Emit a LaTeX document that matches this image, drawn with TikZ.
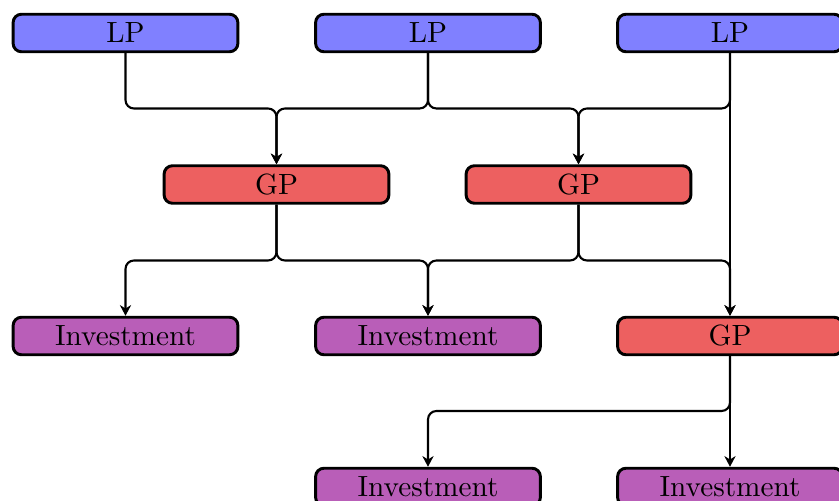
\documentclass[tikz,border=0pt]{standalone}
\usetikzlibrary{arrows.meta}
\definecolor{lpcol}{RGB}{128,128,255}
\definecolor{gpcol}{RGB}{237,96,96}
\definecolor{invcol}{RGB}{185,94,184}
\begin{document}
\begin{tikzpicture}[x=0.35714pt,y=-0.35714pt,
  box/.style={draw=black,line width=1.05pt,rounded corners=3pt,minimum width=80.3pt,minimum height=13.4pt,inner sep=0pt,font=\fontsize{10.45}{12}\selectfont},
  lpbox/.style={box,fill=lpcol},
  gpbox/.style={box,fill=gpcol},
  invbox/.style={box,fill=invcol},
  conn/.style={draw=black,line width=0.75pt,rounded corners=3pt,-{Stealth[length=3.8pt,width=4pt,inset=1.2pt]}}]
\useasboundingbox (0,0) rectangle (839,501);
\node[lpbox] (LP1) at (125.5,33) {LP};
\node[lpbox] (LP2) at (428,33) {LP};
\node[lpbox] (LP3) at (730,33) {LP};
\node[gpbox] (GP1) at (276.5,184.5) {GP};
\node[gpbox] (GP2) at (578.5,184.5) {GP};
\node[invbox] (I1) at (125.5,336) {Investment};
\node[invbox] (I2) at (428,336) {Investment};
\node[gpbox] (GP3) at (730,336) {GP};
\node[invbox] (I4) at (428,487) {Investment};
\node[invbox] (I5) at (730,487) {Investment};
\coordinate (m1) at (0,108.5);
\coordinate (m2) at (0,260.5);
\coordinate (m3) at (0,411);
% LP -> GP
\draw[conn] (LP1.south) |- (GP1.north |- m1) -- (GP1.north);
\draw[conn] (LP2.south) |- (GP1.north |- m1) -- (GP1.north);
\draw[conn] (LP2.south) |- (GP2.north |- m1) -- (GP2.north);
\draw[conn] (LP3.south) |- (GP2.north |- m1) -- (GP2.north);
\draw[conn] (LP3.south) -- (GP3.north);
% GP -> next
\draw[conn] (GP1.south) |- (I1.north |- m2) -- (I1.north);
\draw[conn] (GP1.south) |- (I2.north |- m2) -- (I2.north);
\draw[conn] (GP2.south) |- (I2.north |- m2) -- (I2.north);
\draw[conn] (GP2.south) |- (GP3.north |- m2) -- (GP3.north);
% GP3 -> investments
\draw[conn] (GP3.south) |- (I4.north |- m3) -- (I4.north);
\draw[conn] (GP3.south) -- (I5.north);
\end{tikzpicture}
\end{document}
